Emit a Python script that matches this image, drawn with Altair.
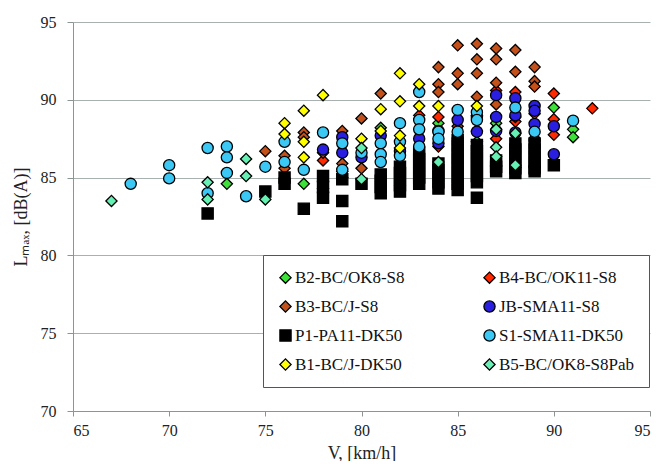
import altair as alt
import pandas as pd

series_names = ["B2-BC/OK8-S8", "B4-BC/OK11-S8", "B3-BC/J-S8", "JB-SMA11-S8",
                "P1-PA11-DK50", "S1-SMA11-DK50", "B1-BC/J-DK50", "B5-BC/OK8-S8Pab"]
series_colors = ["#3ee03a", "#ff2a00", "#c4501a", "#2a1ee0",
                 "#000000", "#3cc8f5", "#ffff00", "#66f0b4"]
series_shapes = ["diamond", "diamond", "diamond", "circle",
                 "square", "circle", "diamond", "diamond"]
series_sizes = [125, 125, 125, 72, 85, 72, 125, 125]

b2_v = [73, 77, 78, 79, 81, 84, 86, 87, 90, 91, 91]
b2_L = [84.6, 84.6, 84.3, 85.0, 88.2, 88.5, 87.3, 88.5, 89.5, 88.1, 87.6]

b4_v = [78, 79, 83, 84, 84, 85, 86, 87, 87, 88, 88, 89, 90, 90, 90, 92]
b4_L = [86.1, 85.4, 89.0, 88.9, 87.0, 88.3, 88.0, 90.6, 87.5, 90.5, 88.6, 89.1, 90.4, 88.75, 87.75, 89.45]

b3_v = [75, 76, 76, 77, 77, 78, 79, 79, 80, 80, 81, 84, 84, 84, 85, 85, 85,
        86, 86, 86, 86, 86, 87, 87, 87, 87, 88, 88, 88, 89, 89, 89]
b3_L = [86.7, 86.4, 85.6, 87.9, 87.6, 86.6, 88.0, 85.9, 88.8, 85.6, 90.4, 92.1, 91.0, 90.5, 93.5, 91.7, 91.0,
        93.6, 92.6, 91.7, 90.2, 89.0, 93.3, 92.6, 91.1, 89.7, 93.2, 91.8, 88.9, 92.1, 91.2, 90.85]

jb_v = [78, 79, 79, 80, 81, 82, 83, 84, 84, 85, 85, 86, 86, 87, 87, 87, 88, 88, 88, 89, 89, 89, 89, 90, 90]
jb_L = [86.8, 87.6, 86.6, 86.3, 87.7, 86.7, 87.5, 87.2, 88.0, 88.7, 87.5, 88.9, 87.95, 90.3, 88.9, 88.0,
        90.1, 89.0, 87.9, 89.6, 89.3, 88.45, 87.4, 88.3, 86.5]

p1_v = [72, 75, 76, 76, 77, 78, 78, 78, 79, 79, 79, 80,
        81, 81, 81, 81, 82, 82, 82, 82, 82,
        83, 83, 83, 83, 83, 83, 84, 84, 84, 84, 84,
        85, 85, 85, 85, 85, 85, 85, 85, 85,
        86, 86, 86, 86, 86, 86, 86, 86,
        87, 87, 87, 88, 88, 88, 88, 88, 88,
        89, 89, 89, 89, 89, 89, 90]
p1_L = [82.7, 84.1, 85.0, 84.6, 83.0, 85.1, 84.4, 83.7, 84.9, 83.5, 82.2, 84.6,
        85.2, 84.8, 84.4, 84.0, 85.7, 85.3, 84.9, 84.5, 84.1,
        86.6, 86.2, 85.8, 85.4, 85.0, 84.6, 85.9, 85.5, 85.1, 84.7, 84.3,
        87.4, 87.0, 86.6, 86.2, 85.8, 85.4, 85.0, 84.6, 84.2,
        87.1, 86.7, 86.3, 85.9, 85.5, 85.1, 84.7, 83.7,
        86.1, 85.7, 85.4, 87.2, 86.8, 86.4, 86.0, 85.6, 85.3,
        87.2, 86.8, 86.4, 86.0, 85.6, 85.4, 85.8]

s1_v = [68, 70, 70, 72, 72, 73, 73, 73, 74, 75, 76, 76, 77, 78, 79, 79, 80, 81, 81, 81,
        82, 82, 82, 83, 83, 83, 83, 84, 84, 85, 85, 86, 86, 88, 89, 91]
s1_L = [84.6, 85.8, 84.95, 86.9, 84.0, 87.0, 86.3, 85.3, 83.8, 85.7, 87.3, 86.0, 85.5, 87.9, 87.2, 85.5,
        86.6, 87.2, 86.5, 86.0, 88.5, 87.3, 86.4, 90.5, 88.7, 88.1, 87.0, 87.95, 87.5, 89.35, 87.95,
        89.2, 88.7, 89.5, 87.95, 88.66]

b1_v = [76, 76, 77, 77, 77, 78, 80, 81, 81, 82, 82, 82, 82, 83, 83, 84, 86]
b1_L = [88.5, 87.8, 89.3, 87.3, 86.3, 90.3, 87.5, 89.4, 88.0, 91.7, 89.9, 87.7, 86.9, 91.0, 89.6, 89.6, 89.6]

b5_v = [67, 72, 72, 74, 74, 75, 80, 80, 84, 87, 87, 87, 88, 88]
b5_L = [83.5, 84.7, 83.6, 86.2, 85.1, 83.6, 86.9, 84.9, 86.0, 88.1, 86.95, 86.35, 87.85, 85.8]

all_v = [b2_v, b4_v, b3_v, jb_v, p1_v, s1_v, b1_v, b5_v]
all_L = [b2_L, b4_L, b3_L, jb_L, p1_L, s1_L, b1_L, b5_L]

rows = []
for k, (name, vs, ls) in enumerate(zip(series_names, all_v, all_L)):
    for v, l in zip(vs, ls):
        rows.append({"series": name, "V": v, "L": l, "k": k})
df = pd.DataFrame(rows)

FONT = "Liberation Serif"

legend = alt.Legend(title=None, orient="none", legendX=190, legendY=233, columns=2,
                    direction="horizontal",
                    labelFont=FONT, labelFontSize=17, labelColor="#111",
                    symbolStrokeColor="#000", symbolStrokeWidth=1.3, symbolSize=65,
                    padding=14, strokeColor="#555", fillColor="white",
                    rowPadding=11, columnPadding=76, labelOffset=1)

points = alt.Chart(df).mark_point(filled=True, opacity=1, stroke="black", strokeWidth=1.3).encode(
    x=alt.X("V:Q", scale=alt.Scale(domain=[65, 95], nice=False),
            axis=alt.Axis(values=[65, 70, 75, 80, 85, 90, 95], title="V, [km/h]", grid=False,
                          tickSize=5, labelPadding=6, titlePadding=6)),
    y=alt.Y("L:Q", scale=alt.Scale(domain=[70, 95], nice=False),
            axis=alt.Axis(values=[70, 75, 80, 85, 90, 95], title="Lₘₐₓ, [dB(A)]", grid=True,
                          tickSize=6, labelPadding=11, titlePadding=10)),
    color=alt.Color("series:N", scale=alt.Scale(domain=series_names, range=series_colors), legend=legend),
    shape=alt.Shape("series:N", scale=alt.Scale(domain=series_names, range=series_shapes), legend=legend),
    size=alt.Size("series:N", scale=alt.Scale(domain=series_names, range=series_sizes), legend=None),
    order=alt.Order("k:Q"),
)

chart = points.properties(
    width=577, height=389,
    autosize=alt.AutoSizeParams(type="none"),
    padding={"left": 65, "top": 14, "right": 1, "bottom": 50},
).configure_view(stroke=None).configure_axis(
    labelFont=FONT, labelFontSize=16, labelColor="#222",
    titleFont=FONT, titleFontSize=18, titleFontWeight="normal", titleColor="#222",
    domainColor="#8c9494", tickColor="#8c9494", gridColor="#a8b0b0", gridWidth=1,
)

chart.save("out.html", embed_options={"renderer": "svg", "actions": False})
